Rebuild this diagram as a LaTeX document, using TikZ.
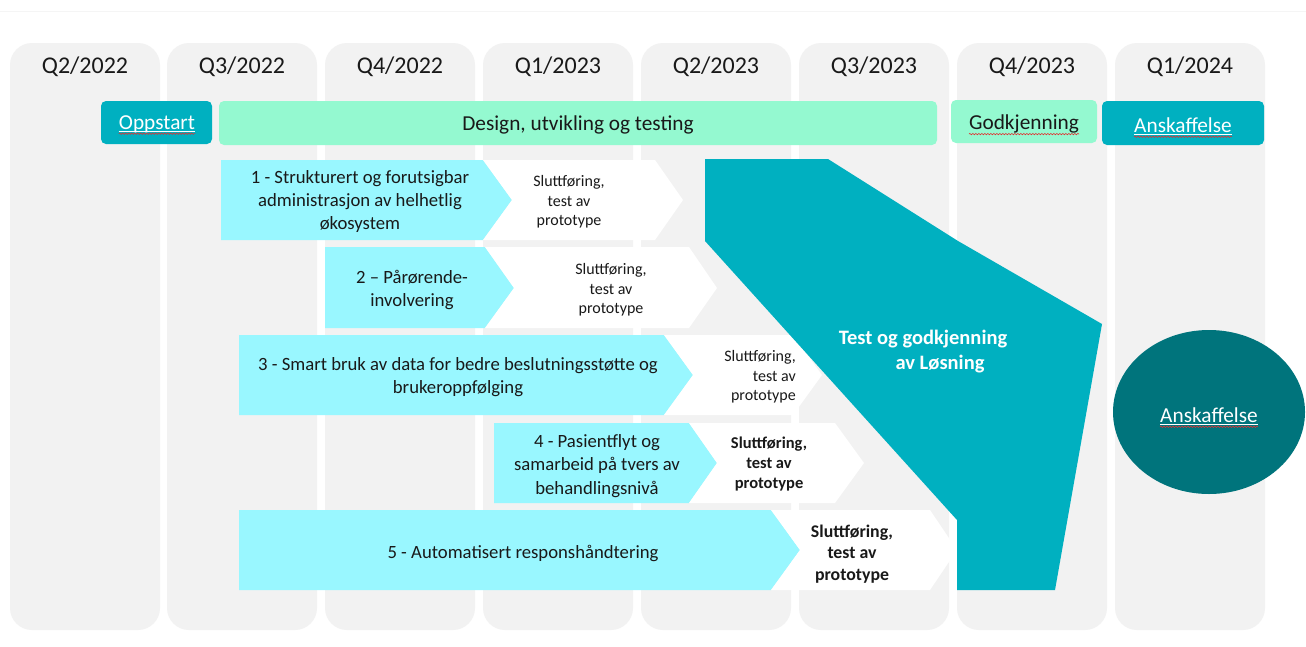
\documentclass[tikz,border=0pt]{standalone}
\usepackage{fontspec}
\setmainfont{Carlito}
\usetikzlibrary{decorations.pathmorphing}
\definecolor{colgray}{HTML}{F2F2F2}
\definecolor{tealbox}{HTML}{00B0C0}
\definecolor{mintbar}{HTML}{94F9D0}
\definecolor{cyanchev}{HTML}{99F7FF}
\definecolor{darkteal}{HTML}{00747C}
\definecolor{spellred}{HTML}{E03030}
\newcommand\phasefont{\fontsize{21.3}{25}\selectfont}
\newlength\wordoff
\newlength\wordlen
\tikzset{
  quarter/.style={inner sep=0pt, text=black!90, font=\fontsize{24}{28}\selectfont},
  phase/.style={inner sep=0pt, text=black!90, font=\phasefont},
  task/.style={inner sep=0pt, align=center, text=black!90, font=\fontsize{18.7}{23.3}\selectfont},
  fin/.style={inner sep=0pt, align=center, text=black!90, font=\fontsize{16}{19.6}\selectfont},
  finbold/.style={fin, font=\fontsize{16.5}{20}\selectfont\bfseries},
  spell/.style={draw=spellred, line width=0.6pt, decorate,
    decoration={snake, amplitude=0.7pt, segment length=3pt}},
  uline/.style={draw=white, line width=0.8pt}
}

\begin{document}
\begin{tikzpicture}[x=1pt, y=-1pt]
  \useasboundingbox (0,0) rectangle (1306,646);
  \fill[white] (0,0) rectangle (1306,646);
  \draw[black!4, line width=1pt] (0,11) -- (1306,11);
  % quarter columns
  \foreach \x/\qq/\yy in {10/2/2022,167/3/2022,325/4/2022,483/1/2023,641/2/2023,799/3/2023,957/4/2023,1115/1/2024}{
    \fill[colgray, rounded corners=22pt] (\x,43) rectangle ++(150,587);
    \node[quarter] (q\qq-\yy) at (\x+75,67) {Q\qq/\yy};
  }
  % phase bars
  \fill[tealbox, rounded corners=5pt] (101,101) rectangle (212,144);
  \node[phase, text=white] (opp) at (157,124) {Oppstart};
  \fill[mintbar, rounded corners=5pt] (219,101) rectangle (937,145);
  \node[phase] (dsg) at (578,125) {Design, utvikling og testing};
  \fill[mintbar, rounded corners=5pt] (951,100) rectangle (1097,143);
  \node[phase] (godk) at (1024,124) {Godkjenning};
  \fill[tealbox, rounded corners=5pt] (1102,101) rectangle (1264,145);
  \node[phase, text=white] (ansk) at (1183,125) {Anskaffelse};
  \draw[uline] ([yshift=-2.5pt]opp.base west) -- ([yshift=-2.5pt]opp.base east);
  \draw[spell] ([yshift=-4.5pt]opp.base west) -- ([yshift=-4.5pt]opp.base east);
  \draw[uline] ([yshift=-2.5pt]ansk.base west) -- ([yshift=-2.5pt]ansk.base east);
  \draw[spell] ([yshift=-4.5pt]ansk.base west) -- ([yshift=-4.5pt]ansk.base east);
  \draw[spell] ([yshift=-4.5pt]godk.base west) -- ([yshift=-4.5pt]godk.base east);
  \settowidth{\wordoff}{\phasefont Design, }
  \settowidth{\wordlen}{\phasefont utvikling}
  \draw[spell] ([xshift=\wordoff, yshift=-4.5pt]dsg.base west) -- ++(\wordlen,0);
  % work packages
  \fill[cyanchev] (221,160) -- (483,160) -- (512,200) -- (483,240) -- (221,240) -- cycle;
  \fill[white] (483,160) -- (655,160) -- (683,200) -- (655,240) -- (483,240) -- (512,200) -- cycle;
  \fill[cyanchev] (325,247) -- (485,247) -- (514,288) -- (485,328) -- (325,328) -- cycle;
  \fill[white] (485,247) -- (689,247) -- (717,288) -- (689,328) -- (485,328) -- (514,288) -- cycle;
  \fill[cyanchev] (239,335) -- (664,335) -- (693,375) -- (664,415) -- (239,415) -- cycle;
  \fill[white] (664,335) -- (793,335) -- (822,375) -- (793,415) -- (664,415) -- (693,375) -- cycle;
  \fill[cyanchev] (494,423) -- (689,423) -- (717,463) -- (689,503) -- (494,503) -- cycle;
  \fill[white] (689,423) -- (835,423) -- (864,463) -- (835,503) -- (689,503) -- (717,463) -- cycle;
  \fill[cyanchev] (239,510) -- (771,510) -- (800,550) -- (771,590) -- (239,590) -- cycle;
  \fill[white] (771,510) -- (930,510) -- (957,550) -- (930,590) -- (771,590) -- (800,550) -- cycle;
  \node[task] (wp1) at (360,201.5) {1 - Strukturert og forutsigbar\\administrasjon av helhetlig\\økosystem};
  \node[task] (wp2) at (412,290) {2 – Pårørende-\\involvering};
  \node[task] (wp3) at (458,377) {3 - Smart bruk av data for bedre beslutningsstøtte og\\brukeroppfølging};
  \node[task] (wp4) at (597,466) {4 - Pasientflyt og\\samarbeid på tvers av\\behandlingsnivå};
  \node[task] (wp5) at (523,553) {5 - Automatisert responshåndtering};
  \node[fin] (fin1) at (569,202) {Sluttføring,\\test av\\prototype};
  \node[fin] (fin2) at (611,290) {Sluttføring,\\test av\\prototype};
  \node[fin, align=right, anchor=east] (fin3) at (796,377) {Sluttføring,\\test av\\prototype};
  \node[finbold] (fin4) at (769,464) {Sluttføring,\\test av\\prototype};
  \node[finbold, font=\fontsize{17.8}{21.5}\selectfont\bfseries] (fin5) at (852,554) {Sluttføring,\\test av\\prototype};
  % test and approval
  \fill[tealbox] (705,159) -- (828,159) -- (958,241) -- (1102,324) -- (1055,590)
    -- (957,590) -- (957,520) -- (705,241) -- cycle;
  \node[inner sep=0pt, text=white, font=\fontsize{20.5}{24}\selectfont\bfseries] (tst1) at (923,339) {Test og godkjenning};
  \node[inner sep=0pt, text=white, font=\fontsize{20.5}{24}\selectfont\bfseries] (tst2) at (940,364) {av Løsning};
  % procurement
  \fill[darkteal] (1209,412) ellipse [x radius=96, y radius=82];
  \node[phase, text=white] (anskE) at (1209,415) {Anskaffelse};
  \draw[uline] ([yshift=-2.5pt]anskE.base west) -- ([yshift=-2.5pt]anskE.base east);
  \draw[spell] ([yshift=-4.5pt]anskE.base west) -- ([yshift=-4.5pt]anskE.base east);
\end{tikzpicture}
\end{document}
